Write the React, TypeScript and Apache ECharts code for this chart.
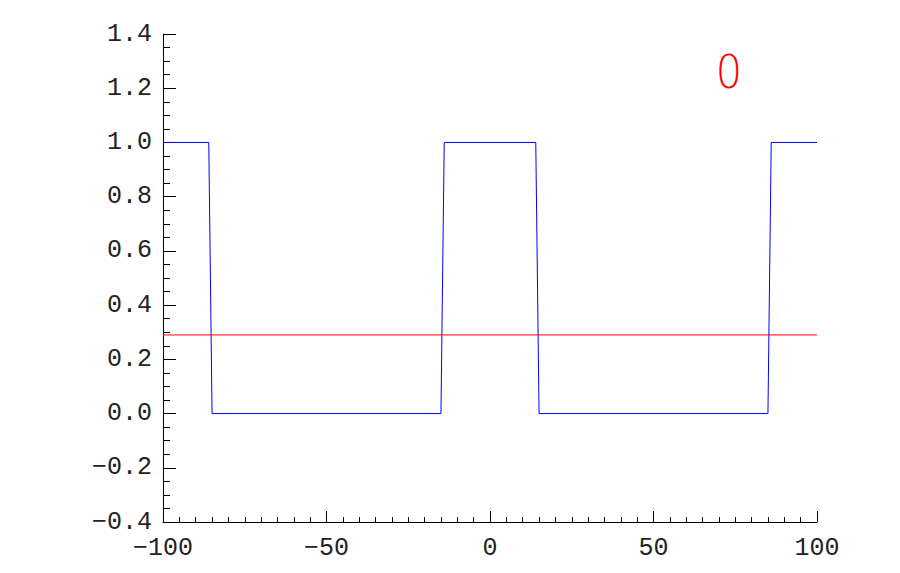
import React, { useEffect, useRef } from "react";
import * as echarts from "echarts";

const squareX = [-100, -86, -85, -15, -14, 14, 15, 85, 86, 100];
const squareY = [1, 1, 0, 0, 1, 1, 0, 0, 1, 1];
const levelX = [-100, 100];
const levelY = [0.29, 0.29];
const annotation = "0";

export default function App() {
  const ref = useRef<HTMLDivElement>(null);
  useEffect(() => {
    if (!ref.current) return;
    const chart = echarts.init(ref.current, undefined, { renderer: "svg" });
    const font = "Liberation Mono";
    const minus = (s: string) => s.replace("-", "\u2212");
    chart.setOption({
      animation: false,
      backgroundColor: "#ffffff",
      grid: { left: 163, right: 83, top: 34, bottom: 51 },
      xAxis: {
        type: "value",
        min: -100,
        max: 100,
        interval: 50,
        axisLine: { show: true, onZero: false, lineStyle: { color: "#000", width: 1 } },
        axisTick: { show: true, inside: true, length: 11, lineStyle: { color: "#000" } },
        minorTick: { show: true, splitNumber: 10, length: 5, lineStyle: { color: "#000" } },
        splitLine: { show: false },
        axisLabel: {
          margin: 14,
          fontFamily: font,
          fontSize: 25,
          color: "#222",
          formatter: (v: number) => minus(String(v)),
        },
      },
      yAxis: {
        type: "value",
        min: -0.4,
        max: 1.4,
        interval: 0.2,
        axisLine: { show: true, onZero: false, lineStyle: { color: "#000", width: 1 } },
        axisTick: { show: true, inside: true, length: 13, lineStyle: { color: "#000" } },
        minorTick: { show: true, splitNumber: 4, length: 7, lineStyle: { color: "#000" } },
        splitLine: { show: false },
        axisLabel: {
          margin: 11,
          fontFamily: font,
          fontSize: 25,
          color: "#222",
          formatter: (v: number) => minus(v.toFixed(1)),
        },
      },
      series: [
        {
          type: "line",
          data: squareX.map((x, i) => [x, squareY[i]]),
          showSymbol: false,
          lineStyle: { color: "#0000ff", width: 1 },
          itemStyle: { color: "#0000ff" },
        },
        {
          type: "line",
          data: levelX.map((x, i) => [x, levelY[i]]),
          showSymbol: false,
          lineStyle: { color: "#ff0000", width: 1 },
          itemStyle: { color: "#ff0000" },
        },
      ],
      graphic: [
        {
          type: "text",
          x: 729,
          y: 72,
          scaleX: 0.9,
          style: {
            text: annotation,
            fill: "#ff0000",
            fontFamily: "DejaVu Sans",
            fontWeight: "lighter",
            fontSize: 46,
            align: "center",
            verticalAlign: "middle",
          },
        },
      ],
    });
    return () => chart.dispose();
  }, []);
  return (
    <div
      ref={ref}
      style={{ position: "absolute", left: 0, top: 0, width: 900, height: 573 }}
    />
  );
}
